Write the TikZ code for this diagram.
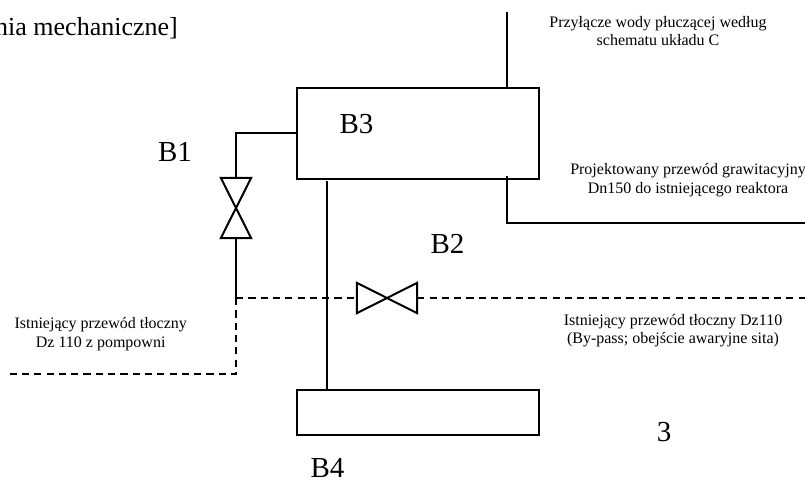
\documentclass[tikz,border=0pt]{standalone}
\usepackage{fontspec}
\setmainfont{Liberation Serif}
\tikzset{
  pipe/.style={draw=black,line width=2pt},
  dashpipe/.style={draw=black,line width=2pt,dash pattern=on 7.2pt off 5.1pt},
  vessel/.style={draw=black,line width=2pt,inner sep=0pt,anchor=north west},
  valvebox/.style={inner sep=0pt},
  big/.style={anchor=base,inner sep=0pt,font=\fontsize{29}{29}\selectfont},
  small/.style={anchor=base,inner sep=0pt,font=\fontsize{16}{16}\selectfont}
}
\begin{document}
\begin{tikzpicture}[x=1pt,y=-1pt]
\useasboundingbox[clip] (0,0) rectangle (805,480);
\fill[white] (0,0) rectangle (805,480);
% vessels
\node[vessel,minimum width=241.5pt,minimum height=91pt] (b3) at (296,87) {};
\node[vessel,minimum width=241.5pt,minimum height=45pt] (b4) at (296,388.5) {};
% valves
\node[valvebox,minimum width=30pt,minimum height=60pt] (v1) at (236,208) {};
\node[valvebox,minimum width=60pt,minimum height=30pt] (v2) at (387,298) {};
\draw[pipe,line join=miter] (v1.north west) -- (v1.south east) -- (v1.south west) -- (v1.north east) -- cycle;
\draw[pipe,line join=miter] (v2.north west) -- (v2.south east) -- (v2.north east) -- (v2.south west) -- cycle;
% named free ends
\coordinate (wtop) at (507,12);
\coordinate (wbot) at (507,87);
\coordinate (gtop) at (507,176);
\coordinate (gcor) at (507,223);
\coordinate (gend) at (805,223);
\coordinate (stub) at (b3.west |- 0,133);
\coordinate (cor) at (236,133);
\coordinate (jun) at (236,298);
\coordinate (dcor) at (236,374);
\coordinate (dend) at (10,374);
\coordinate (rend) at (805,298);
\coordinate (vt) at (327,181);
\coordinate (vb) at (327,389);
% solid pipes
\draw[pipe] (wtop) -- (wbot);
\draw[pipe] (gtop) -- (gcor) -- (gend);
\draw[pipe] (stub) -- (cor) -- (v1.north);
\draw[pipe] (v1.south) -- (jun);
\draw[pipe] (vt) -- (vb);
% dashed pipes
\draw[dashpipe] (jun) -- (v2.west);
\draw[dashpipe] (v2.east) -- (rend);
\draw[dashpipe] (jun) -- (dcor) -- (dend);
% big labels
\node[big] (lb1) at (175,161) {B1};
\node[big] (lb3) at (356.5,133) {B3};
\node[big] (lb2) at (447.5,253) {B2};
\node[big] (lb4) at (327.5,477.5) {B4};
\node[big] (l3) at (664,441) {3};
\node[anchor=base east,inner sep=0pt,font=\fontsize{26}{26}\selectfont] (ltop) at (178,35.5) {nia mechaniczne]};
% small labels
\node[small] (a1) at (658,27) {Przyłącze wody płuczącej według};
\node[small] (a2) at (658,45) {schematu układu C};
\node[small] (c1) at (688,174) {Projektowany przewód grawitacyjny};
\node[small] (c2) at (688,193) {Dn150 do istniejącego reaktora};
\node[small] (d1) at (673,325.5) {Istniejący przewód tłoczny Dz110};
\node[small] (d2) at (673,343.5) {(By-pass; obejście awaryjne sita)};
\node[small] (e1) at (100.7,328) {Istniejący przewód tłoczny};
\node[small] (e2) at (100.7,347) {Dz 110 z pompowni};
\end{tikzpicture}
\end{document}
